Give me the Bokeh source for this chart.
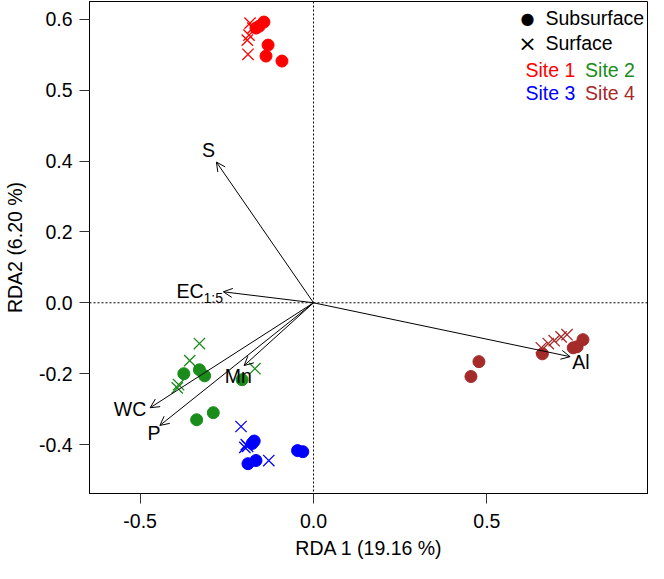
from bokeh.plotting import figure
from bokeh.models import Arrow, OpenHead, Span, Label, ColumnDataSource, FixedTicker, Range1d
from bokeh.embed import file_html
from bokeh.resources import INLINE

FONT = "Liberation Sans"

# ---- data (RDA site scores; y in the plot's linear units, ticks relabelled as in the original) ----
site_names = ["Site 1", "Site 2", "Site 3", "Site 4"]
site_colors = ["#ff0000", "#1a8c1a", "#0000ff", "#a52a2a"]

site1_surf_x = [-0.183, -0.186, -0.191, -0.189, -0.175]
site1_surf_y = [0.789, 0.755, 0.741, 0.701, 0.775]
site1_sub_x = [-0.143, -0.157, -0.166, -0.131, -0.137, -0.091]
site1_sub_y = [0.792, 0.780, 0.775, 0.727, 0.696, 0.682]

site2_surf_x = [-0.329, -0.357, -0.389, -0.393, -0.169]
site2_surf_y = [-0.115, -0.163, -0.231, -0.240, -0.186]
site2_sub_x = [-0.374, -0.329, -0.314, -0.206, -0.337, -0.289]
site2_sub_y = [-0.200, -0.189, -0.206, -0.217, -0.330, -0.310]

site3_surf_x = [-0.209, -0.194, -0.190, -0.198, -0.129]
site3_surf_y = [-0.349, -0.400, -0.405, -0.408, -0.445]
site3_sub_x = [-0.177, -0.171, -0.189, -0.166, -0.046, -0.031]
site3_sub_y = [-0.397, -0.390, -0.454, -0.445, -0.417, -0.420]

site4_surf_x = [0.657, 0.677, 0.694, 0.714, 0.731]
site4_surf_y = [-0.127, -0.115, -0.107, -0.096, -0.090]
site4_sub_x = [0.454, 0.477, 0.660, 0.749, 0.760, 0.777]
site4_sub_y = [-0.208, -0.166, -0.144, -0.127, -0.124, -0.104]

# environmental vectors (arrow tips)
env_names = ["S", "EC", "WC", "P", "Mn", "Al"]
env_x = [-0.280, -0.260, -0.471, -0.443, -0.200, 0.740]
env_y = [0.397, 0.031, -0.296, -0.346, -0.177, -0.152]
# where the vector names are written
env_label_x = [-0.303, -0.317, -0.529, -0.460, -0.217, 0.771]
env_label_y = [0.431, 0.034, -0.301, -0.366, -0.206, -0.166]

x_ticks = [-0.5, 0.0, 0.5]
x_tick_labels = ["-0.5", "0.0", "0.5"]
y_ticks = [-0.4, -0.2, 0.0, 0.2, 0.4, 0.6, 0.8]
y_tick_labels = ["-0.4", "-0.2", "0.0", "0.2", "0.4", "0.5", "0.6"]

FS = "19.5px"

# ---- figure ----
p = figure(width=648, height=563,
           x_range=Range1d(-0.646, 0.966), y_range=Range1d(-0.538, 0.850),
           output_backend="svg", toolbar_location=None,
           min_border_left=84, min_border_right=0, min_border_top=1, min_border_bottom=70)
p.grid.visible = False
p.outline_line_color = "black"
p.outline_line_width = 1
p.background_fill_color = "white"

p.xaxis.ticker = FixedTicker(ticks=x_ticks)
p.xaxis.major_label_overrides = dict(zip(x_ticks, x_tick_labels))
p.yaxis.ticker = FixedTicker(ticks=y_ticks)
p.yaxis.major_label_overrides = dict(zip(y_ticks, y_tick_labels))
p.xaxis.axis_label = "RDA 1 (19.16 %)"
p.yaxis.axis_label = "RDA2 (6.20 %)"
for ax in (p.xaxis[0], p.yaxis[0]):
    ax.major_tick_out = 10
    ax.major_tick_in = 0
    ax.minor_tick_out = 0
    ax.minor_tick_in = 0
    ax.major_tick_line_color = "#333333"
    ax.axis_line_color = "black"
    ax.major_label_text_font = FONT
    ax.major_label_text_font_size = FS
    ax.major_label_text_color = "black"
    ax.axis_label_text_font = FONT
    ax.axis_label_text_font_size = FS
    ax.axis_label_text_font_style = "normal"
    ax.axis_label_text_color = "black"
p.xaxis.major_label_standoff = 10
p.yaxis.major_label_standoff = 7
p.xaxis.axis_label_standoff = 6
p.yaxis.axis_label_standoff = 10

p.add_layout(Span(location=0, dimension="width", line_dash="2 2", line_color="black", line_width=1))
p.add_layout(Span(location=0, dimension="height", line_dash="2 2", line_color="black", line_width=1))

surf = [(site1_surf_x, site1_surf_y), (site2_surf_x, site2_surf_y),
        (site3_surf_x, site3_surf_y), (site4_surf_x, site4_surf_y)]
sub = [(site1_sub_x, site1_sub_y), (site2_sub_x, site2_sub_y),
       (site3_sub_x, site3_sub_y), (site4_sub_x, site4_sub_y)]

for (sx, sy), (bx, by), col in zip(surf, sub, site_colors):
    p.scatter(sx, sy, marker="x", size=16, line_color=col, line_width=1.3)
    p.scatter(bx, by, marker="circle", size=12, fill_color=col, line_color=col)

arrow_src = ColumnDataSource(dict(x0=[0.0] * len(env_x), y0=[0.0] * len(env_y), x1=env_x, y1=env_y))
p.add_layout(Arrow(end=OpenHead(size=9, line_width=1, line_color="black"),
                   x_start="x0", y_start="y0", x_end="x1", y_end="y1",
                   source=arrow_src, line_width=1, line_color="black"))

for name, lx, ly in zip(env_names, env_label_x, env_label_y):
    if name == "EC":
        p.add_layout(Label(x=lx, y=ly, text="EC", text_align="right", text_baseline="middle",
                           text_font=FONT, text_font_size=FS, text_color="black"))
        p.add_layout(Label(x=lx, y=ly, text="1:5", text_align="left", text_baseline="middle",
                           y_offset=-7, text_font=FONT, text_font_size="14px", text_color="black"))
    else:
        p.add_layout(Label(x=lx, y=ly, text=name, text_align="center", text_baseline="middle",
                           text_font=FONT, text_font_size=FS, text_color="black"))

# ---- legend ----
def leg(x, y, text, color, size=FS, font=FONT, align="left"):
    p.add_layout(Label(x=x, y=y, text=text, text_align=align, text_baseline="middle",
                       text_font=font, text_font_size=size, text_color=color))

leg(0.617, 0.803, "\u25CF", "black", size="16px", font="DejaVu Sans", align="center")
leg(0.669, 0.803, "Subsurface", "black")
leg(0.617, 0.732, "\u00D7", "black", size="22px", font="DejaVu Sans", align="center")
leg(0.669, 0.732, "Surface", "black")
leg(0.611, 0.656, site_names[0], site_colors[0])
leg(0.783, 0.656, site_names[1], site_colors[1])
leg(0.611, 0.592, site_names[2], site_colors[2])
leg(0.783, 0.592, site_names[3], site_colors[3])

open("out.html", "w").write(file_html(p, INLINE))
